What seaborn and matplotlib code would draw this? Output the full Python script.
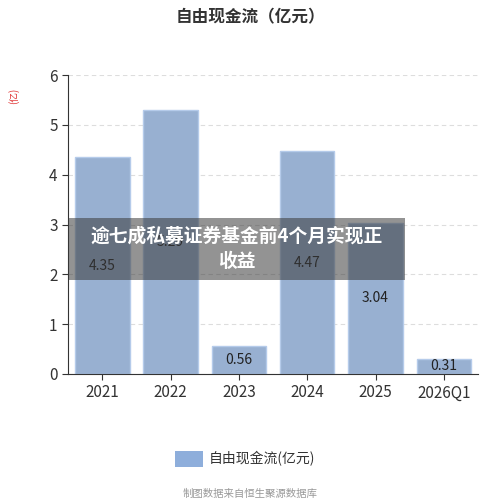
import matplotlib
matplotlib.use("Agg")
import matplotlib.pyplot as plt
import seaborn as sns
import pandas as pd
from matplotlib.patches import Rectangle

years = ["2021", "2022", "2023", "2024", "2025", "2026Q1"]
values = [4.35, 5.29, 0.56, 4.47, 3.04, 0.31]
labels = ["4.35", "5.29", "0.56", "4.47", "3.04", "0.31"]

sns.set_style("white")
plt.rcParams['font.family'] = ['Noto Sans CJK SC', 'DejaVu Sans']

df = pd.DataFrame({"year": years, "value": values})
fig = plt.figure(figsize=(5, 5), dpi=100)
ax = fig.add_axes([0.136, 0.252, 0.82, 0.598])
sns.barplot(data=df, x="year", y="value", color="#8eaedb", width=0.8,
            edgecolor="#b5cbea", linewidth=1, ax=ax, zorder=2)
ax.set_ylim(0, 6)
ax.set_yticks(range(7))
ax.yaxis.grid(True, linestyle=(0, (4, 3)), color="#dddddd", zorder=0)
ax.set_xlabel("")
ax.set_ylabel("(亿)", color="#e03030", fontsize=7)
ax.yaxis.set_label_coords(-0.12, 0.93)
for s in ["top", "right"]:
    ax.spines[s].set_visible(False)
ax.spines["left"].set_color("#333333")
ax.spines["bottom"].set_color("#333333")
ax.tick_params(axis="both", labelsize=11, colors="#333333", length=4, left=True, bottom=True)
for i, (v, t) in enumerate(zip(values, labels)):
    ypos = v / 2 if v > 1 else v / 2
    ax.text(i, ypos, t, ha="center", va="center", fontsize=10, color="#222222", zorder=3)

fig.text(0.5, 0.965, "自由现金流（亿元）", ha="center", va="center", fontsize=12,
         color="#333333", fontweight="bold")

# legend
fig.patches.append(Rectangle((0.35, 0.067), 0.056, 0.032, transform=fig.transFigure,
                             facecolor="#8eaedb", edgecolor="none"))
fig.text(0.418, 0.083, "自由现金流(亿元)", ha="left", va="center", fontsize=10, color="#333333")
fig.text(0.5, 0.012, "制图数据来自恒生聚源数据库", ha="center", va="center", fontsize=7.5, color="#999999")

# overlay banner
fig.patches.append(Rectangle((0.136, 0.44), 0.674, 0.124, transform=fig.transFigure,
                             facecolor="#3a3a3a", alpha=0.55, edgecolor="none", zorder=5))
fig.text(0.473, 0.527, "逾七成私募证券基金前4个月实现正", ha="center", va="center",
         fontsize=13.5, color="white", fontweight="bold", zorder=6)
fig.text(0.473, 0.478, "收益", ha="center", va="center",
         fontsize=13.5, color="white", fontweight="bold", zorder=6)

fig.savefig("out.png", dpi=100)
